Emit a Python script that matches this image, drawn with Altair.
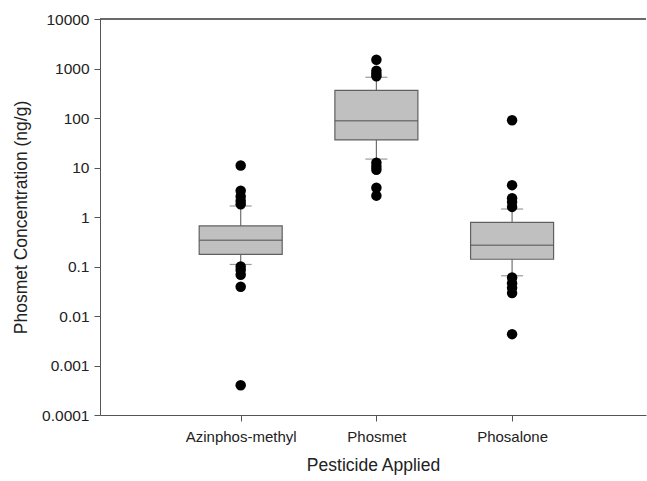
import altair as alt
import pandas as pd

categories = ["Azinphos-methyl", "Phosmet", "Phosalone"]
cat_index = [1, 2, 3]
q1 = [0.176, 36, 0.14]
median = [0.34, 88, 0.27]
q3 = [0.66, 363, 0.78]
whisker_low = [0.11, 14.8, 0.065]
whisker_high = [1.67, 665, 1.45]

outliers_azinphos = [11, 3.4, 2.6, 2.1, 1.8, 0.1, 0.085, 0.068, 0.039, 0.0004]
outliers_phosmet = [1500, 900, 780, 700, 12.5, 10.5, 9, 3.9, 2.7]
outliers_phosalone = [90, 4.4, 2.4, 2.0, 1.6, 0.06, 0.046, 0.037, 0.029, 0.0043]

y_ticks = [0.0001, 0.001, 0.01, 0.1, 1, 10, 100, 1000, 10000]

stats = pd.DataFrame({
    "cat": categories, "idx": cat_index, "q1": q1, "median": median,
    "q3": q3, "lo": whisker_low, "hi": whisker_high,
})
rows = []
for i, vals in zip(cat_index, [outliers_azinphos, outliers_phosmet, outliers_phosalone]):
    for v in vals:
        rows.append({"idx": i, "value": v})
outl = pd.DataFrame(rows)

W, H = 546, 396
label_expr = "datum.value == 1 ? 'Azinphos-methyl' : datum.value == 2 ? 'Phosmet' : datum.value == 3 ? 'Phosalone' : ''"

x_enc = alt.X("idx:Q", scale=alt.Scale(domain=[0, 3.95], nice=False, zero=False),
              axis=alt.Axis(values=[1, 2, 3], labelExpr=label_expr, title="Pesticide Applied",
                            grid=False, tickSize=6, labelPadding=8, titlePadding=12,
                            labelFontSize=15, titleFontSize=17.5, labelColor="#222",
                            titleColor="#222", domainColor="#555", tickColor="#555",
                            labelFont="Liberation Sans", titleFont="Liberation Sans",
                            titleFontWeight="normal"))
y_scale = alt.Scale(type="log", domain=[0.0001, 10000], nice=False)
y_axis = alt.Axis(values=y_ticks, format="~g", title="Phosmet Concentration (ng/g)",
                  grid=False, tickSize=6, labelPadding=5, titlePadding=11,
                  labelFontSize=15.5, titleFontSize=17.5, labelColor="#222", titleColor="#222",
                  domainColor="#555", tickColor="#555", labelFont="Liberation Sans",
                  titleFont="Liberation Sans", titleFontWeight="normal")

base = alt.Chart(stats)
whiskers = base.mark_rule(color="#707070", strokeWidth=1.2).encode(
    x=x_enc, y=alt.Y("lo:Q", scale=y_scale, axis=y_axis), y2="hi:Q")
box = base.mark_bar(size=83, color="#c0c0c0", stroke="#606060", strokeWidth=1.2).encode(
    x="idx:Q", y=alt.Y("q1:Q"), y2="q3:Q")
med = base.mark_tick(size=83, thickness=1.5, color="#555555", orient="horizontal").encode(
    x="idx:Q", y="median:Q")
cap_lo = base.mark_tick(size=22, thickness=1.2, color="#707070", orient="horizontal").encode(
    x="idx:Q", y="lo:Q")
cap_hi = base.mark_tick(size=22, thickness=1.2, color="#707070", orient="horizontal").encode(
    x="idx:Q", y="hi:Q")
pts = alt.Chart(outl).mark_circle(size=110, color="black", opacity=1).encode(
    x="idx:Q", y="value:Q")
top_line = alt.Chart(stats).mark_rule(color="#555", strokeWidth=1).encode(
    x=alt.value(0), x2=alt.value(W), y=alt.value(0))

chart = alt.layer(whiskers, box, med, cap_lo, cap_hi, pts, top_line).properties(
    width=W, height=H,
    padding={"left": 100, "top": 19, "right": 1, "bottom": 66},
    autosize=alt.AutoSizeParams(type="none"),
    background="white",
).configure_view(stroke=None)

chart.save("out.html", embed_options={"renderer": "svg", "actions": False})
